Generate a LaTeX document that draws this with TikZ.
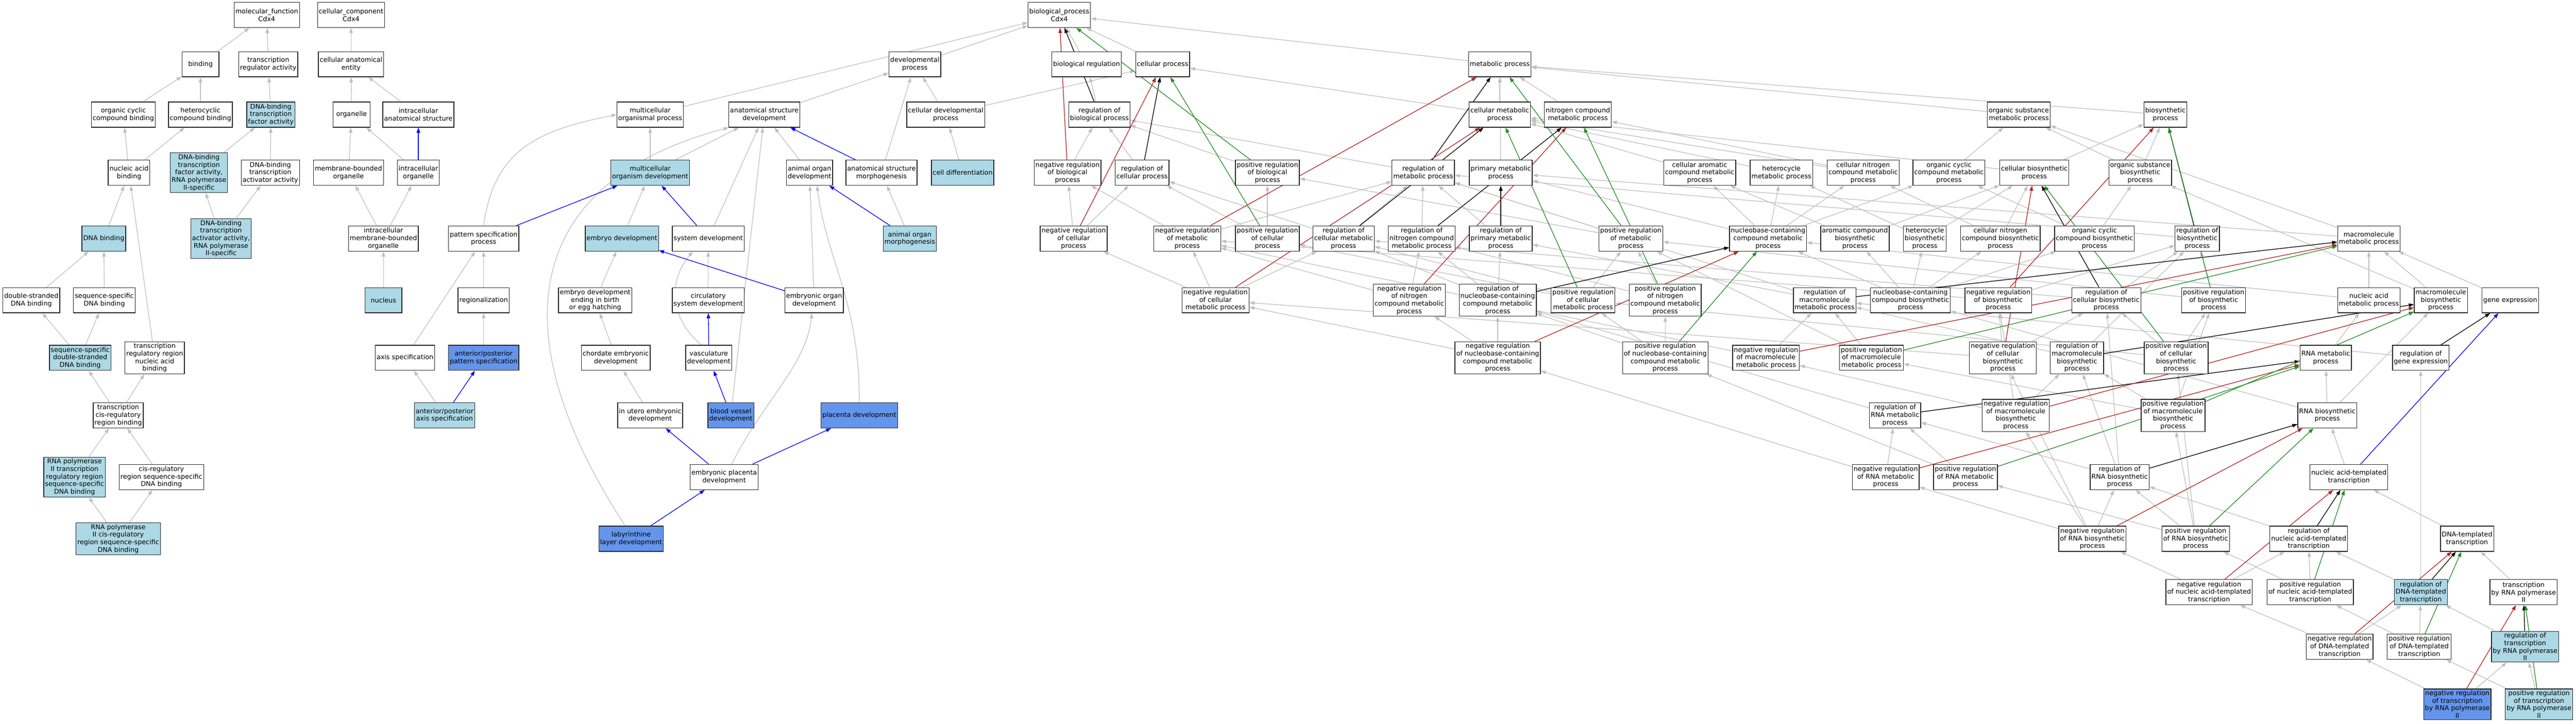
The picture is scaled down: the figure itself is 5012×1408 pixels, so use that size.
\documentclass[tikz,border=0pt]{standalone}
\usepackage{fontspec}
\setmainfont{DejaVu Sans}
\usetikzlibrary{arrows.meta,backgrounds}
\definecolor{hitblue}{HTML}{ADD8E6}
\definecolor{seedblue}{HTML}{6495ED}
\definecolor{isagray}{HTML}{C0C0C0}
\definecolor{negred}{HTML}{B22222}
\definecolor{posgreen}{HTML}{228B22}
\tikzset{
  term/.style={
    draw=black!85, line width=1.3pt, fill=white, align=center,
    inner xsep=2.5pt, inner ysep=3pt, minimum height=49pt, minimum width=72pt,
    font=\fontsize{12.8}{14.7}\selectfont
  },
  hit/.style={term, fill=hitblue},
  seed/.style={term, fill=seedblue},
  isa/.style={draw=isagray, line width=1.3pt, -{Triangle[length=10pt,width=7pt]}},
  partof/.style={isa, draw=blue},
  regul/.style={isa, draw=black},
  negreg/.style={isa, draw=negred},
  posreg/.style={isa, draw=posgreen}
}

\begin{document}
\begin{tikzpicture}[x=1pt,y=-1pt]
  \useasboundingbox (0,0) rectangle (5012,1408);
  % roots
  \node [term] (MF) at (519,29) {molecular\_function\\Cdx4};
  \node [term] (CC) at (683,29) {cellular\_component\\Cdx4};
  \node [term] (BP) at (2061,29) {biological\_process\\Cdx4};
  % row 2
  \node [term] (Bind) at (390,125) {binding};
  \node [term] (TRA) at (522,125) {transcription\\regulator activity};
  \node [term] (CAE) at (683,125) {cellular anatomical\\entity};
  \node [term] (DevP) at (1780,125) {developmental\\process};
  \node [term] (BioReg) at (2114,125) {biological regulation};
  \node [term] (CellP) at (2262,125) {cellular process};
  \node [term] (MetP) at (2918,125) {metabolic process};
  % row 3
  \node [term] (OCCB) at (240,223) {organic cyclic\\compound binding};
  \node [term] (HCB) at (390,223) {heterocyclic\\compound binding};
  \node [hit] (DTFA) at (527,223) {DNA-binding\\transcription\\factor activity};
  \node [term] (Org) at (684,223) {organelle};
  \node [term] (IAS) at (814,223) {intracellular\\anatomical structure};
  \node [term] (MOP) at (1265,223) {multicellular\\organismal process};
  \node [term] (ASD) at (1487,223) {anatomical structure\\development};
  \node [term] (CDP) at (1840,223) {cellular developmental\\process};
  \node [term] (RBP) at (2139,223) {regulation of\\biological process};
  \node [term] (CMP) at (2918,223) {cellular metabolic\\process};
  \node [term] (NCMP) at (3070,223) {nitrogen compound\\metabolic process};
  \node [term] (OSMP) at (3928,223) {organic substance\\metabolic process};
  \node [term] (BSP) at (4213,223) {biosynthetic\\process};
  % row 4
  \node [term] (NAB) at (251,336) {nucleic acid\\binding};
  \node [hit] (DTFA2) at (387,336) {DNA-binding\\transcription\\factor activity,\\RNA polymerase\\II-specific};
  \node [term] (DTAA) at (526,336) {DNA-binding\\transcription\\activator activity};
  \node [term] (MBO) at (678,336) {membrane-bounded\\organelle};
  \node [term] (IO) at (814,336) {intracellular\\organelle};
  \node [hit] (MOD) at (1265,336) {multicellular\\organism development};
  \node [term] (AOD) at (1575,336) {animal organ\\development};
  \node [term] (ASM) at (1715,336) {anatomical structure\\morphogenesis};
  \node [hit] (CD) at (1873,336) {cell differentiation};
  \node [term] (NRBP) at (2077,336) {negative regulation\\of biological\\process};
  \node [term] (RCP) at (2222,336) {regulation of\\cellular process};
  \node [term] (PRBP) at (2466,336) {positive regulation\\of biological\\process};
  \node [term] (RMP) at (2769,336) {regulation of\\metabolic process};
  \node [term] (PMP) at (2920,336) {primary metabolic\\process};
  \node [term] (CACMP) at (3307,336) {cellular aromatic\\compound metabolic\\process};
  \node [term] (HMP) at (3466,336) {heterocycle\\metabolic process};
  \node [term] (CNCMP) at (3625,336) {cellular nitrogen\\compound metabolic\\process};
  \node [term] (OCCMP) at (3792,336) {organic cyclic\\compound metabolic\\process};
  \node [term] (CBP) at (3958,336) {cellular biosynthetic\\process};
  \node [term] (OSBP) at (4164,336) {organic substance\\biosynthetic\\process};
  % row 5
  \node [hit] (DB) at (202,464) {DNA binding};
  \node [hit] (DTAA2) at (430,464) {DNA-binding\\transcription\\activator activity,\\RNA polymerase\\II-specific};
  \node [term] (IMBO) at (746,464) {intracellular\\membrane-bounded\\organelle};
  \node [term] (PSP) at (941,464) {pattern specification\\process};
  \node [hit] (ED) at (1210,464) {embryo development};
  \node [term] (SD) at (1378,464) {system development};
  \node [hit] (AOM) at (1770,464) {animal organ\\morphogenesis};
  \node [term] (NRCP) at (2089,464) {negative regulation\\of cellular\\process};
  \node [term] (NRMP) at (2310,464) {negative regulation\\of metabolic\\process};
  \node [term] (PRCP) at (2466,464) {positive regulation\\of cellular\\process};
  \node [term] (RCMP) at (2614,464) {regulation of\\cellular metabolic\\process};
  \node [term] (RNCMP) at (2766,464) {regulation of\\nitrogen compound\\metabolic process};
  \node [term] (RPMP) at (2920,464) {regulation of\\primary metabolic\\process};
  \node [term] (PRMP) at (3173,464) {positive regulation\\of metabolic\\process};
  \node [term] (NBCMP) at (3440,464) {nucleobase-containing\\compound metabolic\\process};
  \node [term] (ACBP) at (3609,464) {aromatic compound\\biosynthetic\\process};
  \node [term] (HBP) at (3745,464) {heterocycle\\biosynthetic\\process};
  \node [term] (CNCBP) at (3892,464) {cellular nitrogen\\compound biosynthetic\\process};
  \node [term] (OCCBP) at (4075,464) {organic cyclic\\compound biosynthetic\\process};
  \node [term] (RBSP) at (4275,464) {regulation of\\biosynthetic\\process};
  \node [term] (MMP) at (4609,464) {macromolecule\\metabolic process};
  % row 6
  \node [term] (DSDB) at (61,584) {double-stranded\\DNA binding};
  \node [term] (SSDB) at (203,584) {sequence-specific\\DNA binding};
  \node [hit] (Nuc) at (746,584) {nucleus};
  \node [term] (Reg) at (941,584) {regionalization};
  \node [term] (EDB) at (1158,584) {embryo development\\ending in birth\\or egg hatching};
  \node [term] (CSD) at (1378,584) {circulatory\\system development};
  \node [term] (EOD) at (1584,584) {embryonic organ\\development};
  \node [term] (NRCMP) at (2365,584) {negative regulation\\of cellular\\metabolic process};
  \node [term] (NRNCMP) at (2742,584) {negative regulation\\of nitrogen\\compound metabolic\\process};
  \node [term] (RNBCMP) at (2914,584) {regulation of\\nucleobase-containing\\compound metabolic\\process};
  \node [term] (PRCMP) at (3080,584) {positive regulation\\of cellular\\metabolic process};
  \node [term] (PRNCMP) at (3240,584) {positive regulation\\of nitrogen\\compound metabolic\\process};
  \node [term] (RMMP) at (3550,584) {regulation of\\macromolecule\\metabolic process};
  \node [term] (NBCBP) at (3717,584) {nucleobase-containing\\compound biosynthetic\\process};
  \node [term] (NRBSP) at (3888,584) {negative regulation\\of biosynthetic\\process};
  \node [term] (RCBP) at (4098,584) {regulation of\\cellular biosynthetic\\process};
  \node [term] (PRBSP) at (4307,584) {positive regulation\\of biosynthetic\\process};
  \node [term] (NAMP) at (4609,584) {nucleic acid\\metabolic process};
  \node [term] (MBP) at (4749,584) {macromolecule\\biosynthetic\\process};
  \node [term] (GE) at (4884,584) {gene expression};
  % row 7
  \node [hit] (SSDSDB) at (156,696) {sequence-specific\\double-stranded\\DNA binding};
  \node [term] (TRRNAB) at (301,696) {transcription\\regulatory region\\nucleic acid\\binding};
  \node [term] (AxS) at (788,696) {axis specification};
  \node [seed] (APPS) at (941,696) {anterior/posterior\\pattern specification};
  \node [term] (CED) at (1198,696) {chordate embryonic\\development};
  \node [term] (VD) at (1379,696) {vasculature\\development};
  \node [term] (NRNBCMP) at (2914,696) {negative regulation\\of nucleobase-containing\\compound metabolic\\process};
  \node [term] (PRNBCMP) at (3240,696) {positive regulation\\of nucleobase-containing\\compound metabolic\\process};
  \node [term] (NRMMP) at (3436,696) {negative regulation\\of macromolecule\\metabolic process};
  \node [term] (PRMMP) at (3641,696) {positive regulation\\of macromolecule\\metabolic process};
  \node [term] (NRCBP) at (3897,696) {negative regulation\\of cellular\\biosynthetic\\process};
  \node [term] (RMBP) at (4041,696) {regulation of\\macromolecule\\biosynthetic\\process};
  \node [term] (PRCBP) at (4234,696) {positive regulation\\of cellular\\biosynthetic\\process};
  \node [term] (RNAMP) at (4525,696) {RNA metabolic\\process};
  \node [term] (RGE) at (4710,696) {regulation of\\gene expression};
  % row 8
  \node [term] (TCRRB) at (230,808) {transcription\\cis-regulatory\\region binding};
  \node [hit] (APAS) at (865,808) {anterior/posterior\\axis specification};
  \node [term] (IUED) at (1265,808) {in utero embryonic\\development};
  \node [seed] (BVD) at (1422,808) {blood vessel\\development};
  \node [seed] (PD) at (1672,808) {placenta development};
  \node [term] (RRNAMP) at (3687,808) {regulation of\\RNA metabolic\\process};
  \node [term] (NRMBP) at (3922,808) {negative regulation\\of macromolecule\\biosynthetic\\process};
  \node [term] (PRMBP) at (4228,808) {positive regulation\\of macromolecule\\biosynthetic\\process};
  \node [term] (RNABP) at (4528,808) {RNA biosynthetic\\process};
  % row 9
  \node [hit] (RPTRR) at (145,928) {RNA polymerase\\II transcription\\regulatory region\\sequence-specific\\DNA binding};
  \node [term] (CRRSS) at (314,928) {cis-regulatory\\region sequence-specific\\DNA binding};
  \node [term] (EPD) at (1409,928) {embryonic placenta\\development};
  \node [term] (NRRNAMP) at (3669,928) {negative regulation\\of RNA metabolic\\process};
  \node [term] (PRRNAMP) at (3824,928) {positive regulation\\of RNA metabolic\\process};
  \node [term] (RRNABP) at (4124,928) {regulation of\\RNA biosynthetic\\process};
  \node [term] (NATT) at (4570,928) {nucleic acid-templated\\transcription};
  % row 10
  \node [hit] (RPCRR) at (230,1048) {RNA polymerase\\II cis-regulatory\\region sequence-specific\\DNA binding};
  \node [seed] (LLD) at (1228,1048) {labyrinthine\\layer development};
  \node [term] (NRRNABP) at (4071,1048) {negative regulation\\of RNA biosynthetic\\process};
  \node [term] (PRRNABP) at (4272,1048) {positive regulation\\of RNA biosynthetic\\process};
  \node [term] (RNATT) at (4492,1048) {regulation of\\nucleic acid-templated\\transcription};
  \node [term] (DTT) at (4800,1048) {DNA-templated\\transcription};
  % rows 11 to 13
  \node [term] (NRNATT) at (4298,1152) {negative regulation\\of nucleic acid-templated\\transcription};
  \node [term] (PRNATT) at (4495,1152) {positive regulation\\of nucleic acid-templated\\transcription};
  \node [hit] (RDTT) at (4710,1152) {regulation of\\DNA-templated\\transcription};
  \node [term] (TRP) at (4910,1152) {transcription\\by RNA polymerase\\II};
  \node [term] (NRDTT) at (4552,1258) {negative regulation\\of DNA-templated\\transcription};
  \node [term] (PRDTT) at (4707,1258) {positive regulation\\of DNA-templated\\transcription};
  \node [hit] (RTRP) at (4913,1258) {regulation of\\transcription\\by RNA polymerase\\II};
  \node [seed] (NRTRP) at (4781,1370) {negative regulation\\of transcription\\by RNA polymerase\\II};
  \node [hit] (PRTRP) at (4940,1370) {positive regulation\\of transcription\\by RNA polymerase\\II};

  \begin{pgfonlayer}{background}
    \foreach \a/\b in {Bind/MF, TRA/MF, OCCB/Bind, HCB/Bind, DTFA/TRA, NAB/OCCB, NAB/HCB,
        DTFA2/DTFA, DTAA/DTFA, DB/NAB, DTAA2/DTFA2, DTAA2/DTAA, DSDB/DB, SSDB/DB,
        SSDSDB/DSDB, SSDSDB/SSDB, TRRNAB/NAB, TCRRB/SSDSDB, TCRRB/TRRNAB,
        RPTRR/TCRRB, CRRSS/TCRRB, RPCRR/RPTRR, RPCRR/CRRSS,
        CAE/CC, Org/CAE, IAS/CAE, MBO/Org, IO/Org, IMBO/MBO, IMBO/IO, Nuc/IMBO,
        DevP/BP, MOP/BP, ASD/DevP, CDP/DevP, CDP/CellP, MOD/MOP, MOD/ASD, AOD/ASD,
        ASM/DevP, CD/CDP, SD/ASD, ED/MOD, EDB/ED, CSD/SD, EOD/AOD, CED/EDB,
        AOM/ASM, Reg/PSP, AxS/PSP, APPS/Reg, APAS/AxS, IUED/CED, BVD/ASD,
        BioReg/BP, CellP/BP, MetP/BP, RBP/BioReg, NRBP/RBP, RCP/RBP, PRBP/RBP,
        NRCP/NRBP, NRCP/RCP, PRCP/PRBP, PRCP/RCP, NRMP/NRBP, NRMP/RMP, RMP/RBP,
        RCMP/RMP, RCMP/RCP, RNCMP/RMP, RPMP/RMP, PRMP/RMP, PRMP/PRBP,
        NRCMP/NRCP, NRCMP/NRMP, NRCMP/RCMP, NRNCMP/NRMP, NRNCMP/RNCMP,
        RNBCMP/RCMP, RNBCMP/RNCMP, RNBCMP/RPMP, PRCMP/RCMP, PRCMP/PRMP, PRCMP/PRCP,
        PRNCMP/RNCMP, PRNCMP/PRMP, RMMP/RMP, RMMP/RPMP,
        NRNBCMP/RNBCMP, NRNBCMP/NRNCMP, NRNBCMP/NRCMP,
        PRNBCMP/RNBCMP, PRNBCMP/PRNCMP, PRNBCMP/PRCMP,
        NRMMP/RMMP, NRMMP/NRMP, PRMMP/RMMP, PRMMP/PRMP,
        RBSP/RMP, NRBSP/RBSP, NRBSP/NRMP, PRBSP/RBSP, PRBSP/PRMP,
        RCBP/RBSP, RCBP/RCMP, NRCBP/RCBP, NRCBP/NRBSP, NRCBP/NRCMP,
        PRCBP/RCBP, PRCBP/PRBSP, PRCBP/PRCMP, RMBP/RMMP, RMBP/RBSP,
        NRMBP/RMBP, NRMBP/NRBSP, NRMBP/NRMMP, PRMBP/RMBP, PRMBP/PRBSP, PRMBP/PRMMP,
        RGE/RMMP, RRNAMP/RNBCMP, NRRNAMP/RRNAMP, NRRNAMP/NRNBCMP,
        PRRNAMP/RRNAMP, PRRNAMP/PRNBCMP, RRNABP/RRNAMP, RRNABP/RCBP, RRNABP/RMBP,
        NRRNABP/RRNABP, NRRNABP/NRCBP, NRRNABP/NRMBP, NRRNABP/NRRNAMP,
        PRRNABP/RRNABP, PRRNABP/PRCBP, PRRNABP/PRMBP, PRRNABP/PRRNAMP,
        RNATT/RRNABP, NRNATT/RNATT, NRNATT/NRRNABP, PRNATT/RNATT, PRNATT/PRRNABP,
        RDTT/RNATT, RDTT/RGE, NRDTT/RDTT, NRDTT/NRNATT, PRDTT/RDTT, PRDTT/PRNATT,
        RTRP/RDTT, NRTRP/RTRP, NRTRP/NRDTT, PRTRP/RTRP, PRTRP/PRDTT,
        CMP/MetP, CMP/CellP, NCMP/MetP, PMP/MetP, OSMP/MetP, BSP/MetP,
        CACMP/CMP, HMP/CMP, CNCMP/CMP, CNCMP/NCMP, OCCMP/OSMP, CBP/BSP, CBP/CMP,
        OSBP/BSP, OSBP/OSMP, NBCMP/CACMP, NBCMP/HMP, NBCMP/CNCMP, NBCMP/OCCMP,
        NBCMP/PMP, ACBP/CACMP, ACBP/CBP, HBP/HMP, HBP/CBP, CNCBP/CNCMP, CNCBP/CBP,
        OCCBP/OCCMP, OCCBP/OSBP, NBCBP/NBCMP, NBCBP/ACBP, NBCBP/HBP, NBCBP/CNCBP,
        NBCBP/OCCBP, MMP/OSMP, MMP/PMP, NAMP/NBCMP, NAMP/MMP, MBP/MMP, MBP/OSBP,
        GE/MMP, RNAMP/NAMP, RNABP/RNAMP, RNABP/NBCBP, RNABP/MBP, NATT/RNABP,
        DTT/NATT, TRP/DTT}
      \draw [isa] (\a) -- (\b);
    \draw [isa] (LLD.115) .. controls +(-260,-400) and +(-380,100) .. (ASD.200);
    \draw [isa] (PSP.north) .. controls +(20,-150) and +(-150,30) .. (MOP.west);
    \draw [isa] (VD.120) .. controls +(-60,-50) and +(-50,60) .. (SD.220);
    \draw [isa] (PD.north) .. controls +(0,-200) and +(20,150) .. (AOD.-60);
    \draw [isa] (EPD.60) .. controls +(60,-120) and +(-10,100) .. (EOD.-100);
    \foreach \a/\b in {IO/IAS, ASM/ASD, AOM/AOD, SD/MOD, EOD/ED, BVD/VD, VD/CSD,
        PSP/MOD, APAS/APPS, EPD/IUED, EPD/PD, LLD/EPD, NATT/GE}
      \draw [partof] (\a) -- (\b);
    \foreach \a/\b in {RBP/BP, RCP/CellP, RMP/MetP, RCMP/CMP, RNCMP/NCMP, RPMP/PMP,
        RNBCMP/NBCMP, RMMP/MMP, RBSP/BSP, RCBP/CBP, RMBP/MBP, RGE/GE, RRNAMP/RNAMP,
        RRNABP/RNABP, RNATT/NATT, RDTT/DTT, RTRP/TRP}
      \draw [regul] (\a) -- (\b);
    \foreach \a/\b in {NRBP/BP, NRCP/CellP, NRMP/MetP, NRCMP/CMP, NRNCMP/NCMP,
        NRNBCMP/NBCMP, NRMMP/MMP, NRBSP/BSP, NRCBP/CBP, NRMBP/MBP, NRRNAMP/RNAMP,
        NRRNABP/RNABP, NRNATT/NATT, NRDTT/DTT, NRTRP/TRP}
      \draw [negreg] (\a) -- (\b);
    \foreach \a/\b in {PRBP/BP, PRCP/CellP, PRMP/MetP, PRCMP/CMP, PRNCMP/NCMP,
        PRNBCMP/NBCMP, PRMMP/MMP, PRBSP/BSP, PRCBP/CBP, PRMBP/MBP, PRRNAMP/RNAMP,
        PRRNABP/RNABP, PRNATT/NATT, PRDTT/DTT, PRTRP/TRP}
      \draw [posreg] (\a) -- (\b);
  \end{pgfonlayer}
\end{tikzpicture}
\end{document}
